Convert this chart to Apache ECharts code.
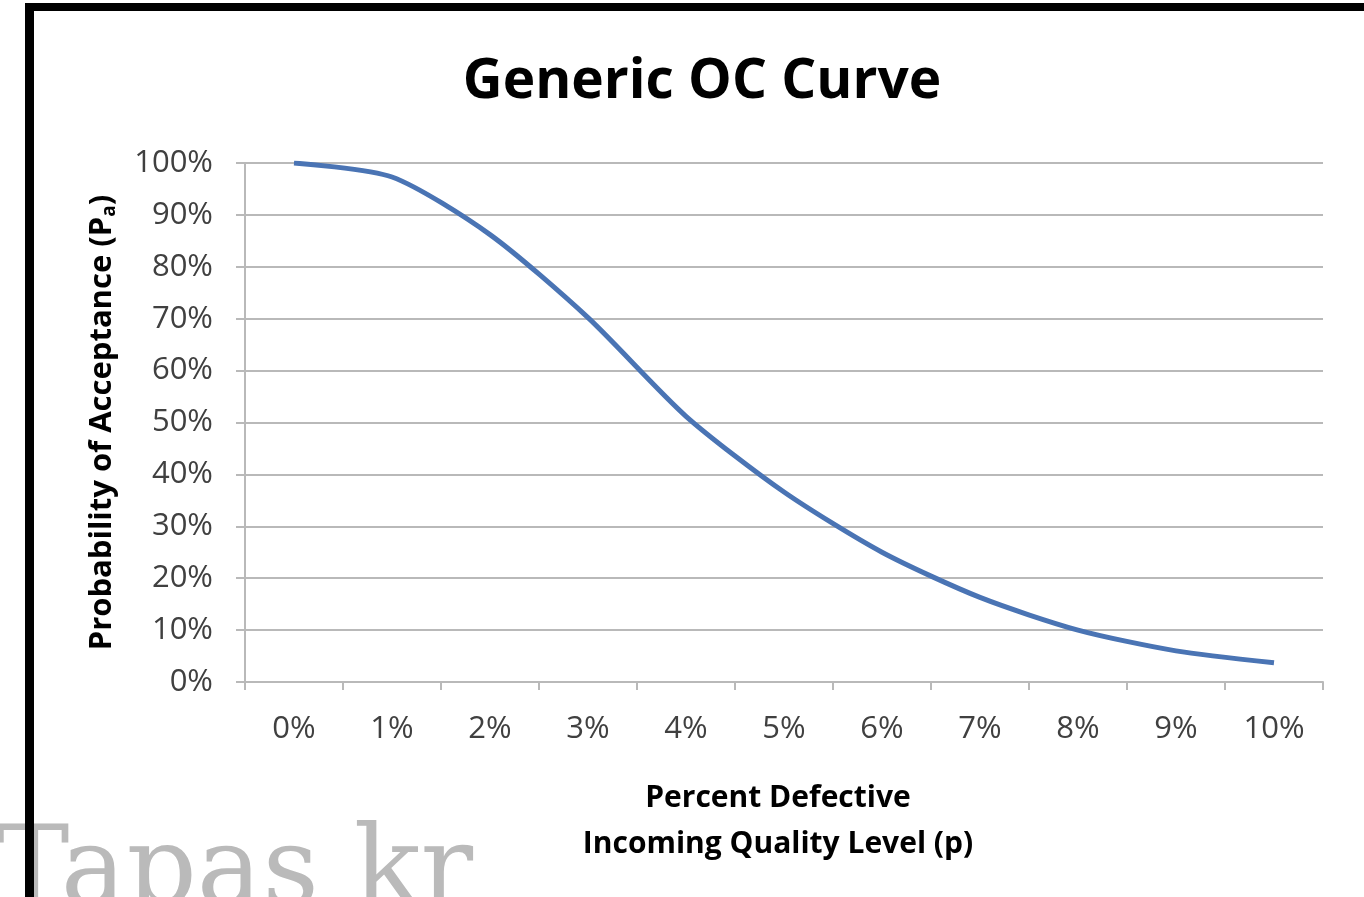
<!DOCTYPE html>
<html>
<head>
<meta charset="utf-8">
<script src="https://cdn.jsdelivr.net/npm/echarts@6/dist/echarts.min.js"></script>
<style>
  html, body { margin: 0; padding: 0; background: #ffffff; }
  #chart { width: 1364px; height: 897px; }
</style>
</head>
<body>
<div id="chart"></div>
<script>
// ---- Data ----
const categories = ['0%', '1%', '2%', '3%', '4%', '5%', '6%', '7%', '8%', '9%', '10%'];
const acceptance = [1.00, 0.973, 0.862, 0.702, 0.512, 0.366, 0.250, 0.163, 0.100, 0.060, 0.037];
const titleText = 'Generic OC Curve';
const xNameLines = ['Percent Defective', 'Incoming Quality Level (p)'];
const watermarkText = 'Tapas kr';

const chart = echarts.init(document.getElementById('chart'), null, { renderer: 'canvas' });

const option = {
  backgroundColor: '#ffffff',
  animation: false,
  title: {
    text: titleText,
    left: 697,
    top: 50,
    textAlign: 'center',
    textStyle: { fontFamily: 'Open Sans', fontWeight: 'bold', fontSize: 55, color: '#000000' }
  },
  grid: { left: 245, right: 41, top: 163, bottom: 215, containLabel: false },
  xAxis: {
    type: 'category',
    data: categories,
    boundaryGap: true,
    name: xNameLines.join('\n'),
    nameLocation: 'middle',
    nameGap: 93,
    nameTextStyle: { fontFamily: 'Open Sans', fontWeight: 'bold', fontSize: 30, color: '#000000', lineHeight: 46, padding: [0, 12, 0, 0] },
    axisLine: { show: true, lineStyle: { color: '#b9b9b9', width: 2 } },
    axisTick: { show: true, length: 8, alignWithLabel: false, lineStyle: { color: '#b9b9b9', width: 2 } },
    axisLabel: { margin: 32, fontFamily: 'Open Sans', fontSize: 31, color: '#404040' },
    splitLine: { show: false }
  },
  yAxis: {
    type: 'value',
    min: 0,
    max: 1,
    interval: 0.1,
    name: '{n|Probability of Acceptance (P}{s|a}{n|)}',
    nameLocation: 'middle',
    nameRotate: 90,
    nameGap: 126,
    nameTextStyle: {
      rich: {
        n: { fontFamily: 'Open Sans', fontWeight: 'bold', fontSize: 31, color: '#000000' },
        s: { fontFamily: 'Open Sans', fontWeight: 'bold', fontSize: 19, color: '#000000', padding: [14, 0, 0, 0] }
      }
    },
    axisLine: { show: true, lineStyle: { color: '#b9b9b9', width: 2 } },
    axisTick: { show: true, length: 9, lineStyle: { color: '#b9b9b9', width: 2 } },
    axisLabel: {
      margin: 32,
      fontFamily: 'Open Sans',
      fontSize: 31,
      color: '#404040',
      formatter: function (v) { return Math.round(v * 100) + '%'; }
    },
    splitLine: { show: true, lineStyle: { color: '#b9b9b9', width: 2 } }
  },
  series: [{
    type: 'line',
    data: acceptance,
    smooth: 0.25,
    showSymbol: false,
    symbol: 'none',
    lineStyle: { color: '#4a74b4', width: 5 },
    z: 5
  }],
  graphic: [
    {
      type: 'text',
      left: -4,
      top: 820,
      z: 1,
      style: {
        text: watermarkText,
        fontFamily: 'DejaVu Serif',
        fontSize: 110,
        fill: '#bababa'
      }
    },
    { type: 'rect', shape: { x: 25, y: 3, width: 1339, height: 8 }, style: { fill: '#000000' }, z: 10 },
    { type: 'rect', shape: { x: 25, y: 3, width: 9, height: 894 }, style: { fill: '#000000' }, z: 10 }
  ]
};

chart.setOption(option);
</script>
</body>
</html>
